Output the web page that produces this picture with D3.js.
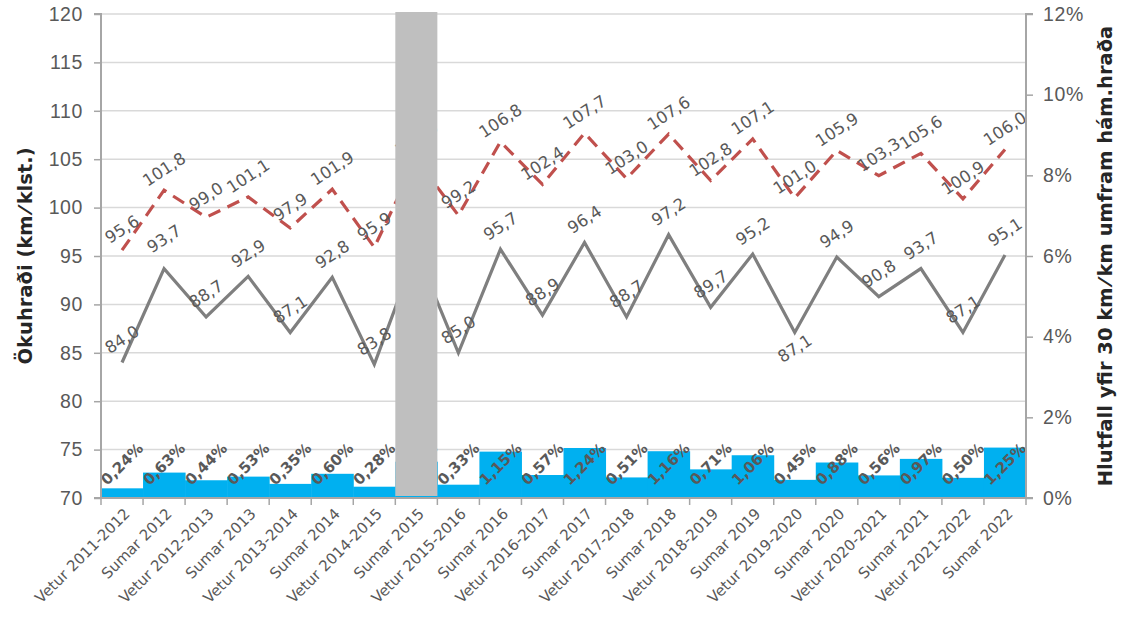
<!DOCTYPE html>
<html>
<head>
<meta charset="utf-8">
<script src="https://cdn.jsdelivr.net/npm/d3@7"></script>
<style>
  body { margin: 0; background: #fff; }
  svg { font-family: "DejaVu Sans", sans-serif; }
</style>
</head>
<body>
<div class="canvas"></div>
<script>
// chart size and plot margins
const width = 1121;
const height = 619;
const marginTop = 14;
const marginRight = 95;
const marginBottom = 121;
const marginLeft = 101;

// categories (seasons)
const seasons = [
  "Vetur 2011-2012", "Sumar 2012", "Vetur 2012-2013", "Sumar 2013",
  "Vetur 2013-2014", "Sumar 2014", "Vetur 2014-2015", "Sumar 2015",
  "Vetur 2015-2016", "Sumar 2016", "Vetur 2016-2017", "Sumar 2017",
  "Vetur 2017-2018", "Sumar 2018", "Vetur 2018-2019", "Sumar 2019",
  "Vetur 2019-2020", "Sumar 2020", "Vetur 2020-2021", "Sumar 2021",
  "Vetur 2021-2022", "Sumar 2022"
];

// average speed (grey line), km/h
const avgSpeed = [84.0, 93.7, 88.7, 92.9, 87.1, 92.8, 83.8, 95.5, 85.0, 95.7, 88.9,
  96.4, 88.7, 97.2, 89.7, 95.2, 87.1, 94.9, 90.8, 93.7, 87.1, 95.1];

// 85th percentile speed (red dashed line), km/h
const speed85 = [95.6, 101.8, 99.0, 101.1, 97.9, 101.9, 95.9, 105.0, 99.2, 106.8, 102.4,
  107.7, 103.0, 107.6, 102.8, 107.1, 101.0, 105.9, 103.3, 105.6, 100.9, 106.0];

// share over 30 km/h above limit (bars), %
const overShare = [0.24, 0.63, 0.44, 0.53, 0.35, 0.60, 0.28, 0.90, 0.33, 1.15, 0.57,
  1.24, 0.51, 1.16, 0.71, 1.06, 0.45, 0.88, 0.56, 0.97, 0.50, 1.25];

// season with no data (grey mask)
const maskedSeason = "Sumar 2015";

// axis ticks
const leftTicks = [70, 75, 80, 85, 90, 95, 100, 105, 110, 115, 120];
const rightTicks = [0, 2, 4, 6, 8, 10, 12];

const comma = v => d3.format(".1f")(v).replace(".", ",");
const pct = v => d3.format(".2f")(v).replace(".", ",") + "%";

const textColor = "#595959";
const axisColor = "#a6a6a6";

const svg = d3.select(".canvas").append("svg")
  .attr("width", width)
  .attr("height", height);

const x = d3.scaleBand()
  .domain(seasons)
  .range([marginLeft, width - marginRight])
  .padding(0);

const y = d3.scaleLinear()
  .domain([70, 120])
  .range([height - marginBottom, marginTop]);

const y2 = d3.scaleLinear()
  .domain([0, 12])
  .range([height - marginBottom, marginTop]);

const cx = d => x(d) + x.bandwidth() / 2;

// gridlines
svg.append("g")
  .selectAll("line")
  .data(leftTicks.slice(1))
  .join("line")
    .attr("x1", marginLeft)
    .attr("x2", width - marginRight)
    .attr("y1", d => y(d))
    .attr("y2", d => y(d))
    .attr("stroke", "#d9d9d9")
    .attr("stroke-width", 1.5);

// bars
svg.append("g")
  .selectAll("rect")
  .data(seasons)
  .join("rect")
    .attr("x", d => x(d))
    .attr("width", x.bandwidth() + 0.5)
    .attr("y", (d, i) => y2(overShare[i]))
    .attr("height", (d, i) => y2(0) - y2(overShare[i]))
    .attr("fill", "#00b0f0");

// lines
const line = vals => d3.line()
  .x((d, i) => cx(seasons[i]))
  .y(d => y(d))(vals);

svg.append("path")
  .attr("d", line(avgSpeed))
  .attr("fill", "none")
  .attr("stroke", "#7f7f7f")
  .attr("stroke-width", 3.2);

svg.append("path")
  .attr("d", line(speed85))
  .attr("fill", "none")
  .attr("stroke", "#c0504d")
  .attr("stroke-width", 3.2)
  .attr("stroke-dasharray", "13,8");

// data labels
const labels = svg.append("g")
  .attr("fill", textColor)
  .attr("text-anchor", "middle");

labels.selectAll(".lbl85")
  .data(speed85)
  .join("text")
    .attr("class", "lbl85")
    .attr("transform", (d, i) => `translate(${cx(seasons[i])},${y(d) - 21}) rotate(-33)`)
    .attr("dy", "0.35em")
    .attr("font-size", 16.5)
    .text(d => comma(d));

labels.selectAll(".lblavg")
  .data(avgSpeed)
  .join("text")
    .attr("class", "lblavg")
    .attr("transform", (d, i) => {
      const off = i === 16 ? 16 : (i === 1 ? -30 : -23);
      return `translate(${cx(seasons[i])},${y(d) + off}) rotate(-33)`;
    })
    .attr("dy", "0.35em")
    .attr("font-size", 16.5)
    .text(d => comma(d));

labels.selectAll(".lblbar")
  .data(overShare)
  .join("text")
    .attr("class", "lblbar")
    .attr("transform", (d, i) => `translate(${cx(seasons[i])},${y2(0) - 34}) rotate(-45)`)
    .attr("dy", "0.35em")
    .attr("font-size", 15)
    .attr("font-weight", "bold")
    .text(d => pct(d));

// grey mask over missing season
svg.append("rect")
  .attr("x", x(maskedSeason))
  .attr("width", x.bandwidth())
  .attr("y", marginTop - 2)
  .attr("height", y(70) - marginTop)
  .attr("fill", "#bfbfbf");

// left axis
const gy = svg.append("g")
  .attr("transform", `translate(${marginLeft},0)`)
  .call(d3.axisLeft(y).tickValues(leftTicks).tickSize(7).tickPadding(11));

// right axis
const gy2 = svg.append("g")
  .attr("transform", `translate(${width - marginRight},0)`)
  .call(d3.axisRight(y2).tickValues(rightTicks).tickSize(7).tickPadding(10).tickFormat(d => d + "%"));

// bottom axis: ticks at band edges, labels at band centres
const gx = svg.append("g")
  .attr("transform", `translate(0,${height - marginBottom})`);

gx.append("line")
  .attr("x1", marginLeft)
  .attr("x2", width - marginRight)
  .attr("stroke", axisColor)
  .attr("stroke-width", 2);

gx.selectAll(".edge")
  .data(d3.range(seasons.length + 1))
  .join("line")
    .attr("class", "edge")
    .attr("x1", i => marginLeft + i * x.bandwidth())
    .attr("x2", i => marginLeft + i * x.bandwidth())
    .attr("y1", 0)
    .attr("y2", 7)
    .attr("stroke", axisColor)
    .attr("stroke-width", 1.5);

gx.selectAll(".xl")
  .data(seasons)
  .join("text")
    .attr("class", "xl")
    .attr("transform", d => `translate(${cx(d) + 5},${13}) rotate(-45)`)
    .attr("text-anchor", "end")
    .attr("dy", "0.35em")
    .attr("font-size", 15)
    .attr("fill", textColor)
    .text(d => d);

[gy, gy2].forEach(g => {
  g.select(".domain").attr("stroke", axisColor).attr("stroke-width", 2);
  g.selectAll(".tick line").attr("stroke", axisColor).attr("stroke-width", 1.5);
  g.selectAll(".tick text")
    .attr("font-size", 19.5)
    .attr("letter-spacing", 0.6)
    .attr("fill", textColor);
});
gy.select(".domain").attr("d", `M-7,${y(120)}H0V${y(70)}H-7`);
gy2.select(".domain").attr("d", `M7,${y2(12)}H0V${y2(0)}H7`);

// axis titles
svg.append("text")
  .attr("transform", `translate(32,${(marginTop + y(70)) / 2}) rotate(-90)`)
  .attr("text-anchor", "middle")
  .attr("font-size", 19.5)
  .attr("font-weight", "bold")
  .attr("fill", "#262626")
  .text("Ökuhraði (km\u2009⁄\u2009klst.)");

svg.append("text")
  .attr("transform", `translate(1112,${(marginTop + y(70)) / 2}) rotate(-90)`)
  .attr("text-anchor", "middle")
  .attr("font-size", 19.5)
  .attr("font-weight", "bold")
  .attr("fill", "#262626")
  .text("Hlutfall yfir 30 km\u2009⁄\u2009km umfram hám.hraða");
</script>
</body>
</html>
